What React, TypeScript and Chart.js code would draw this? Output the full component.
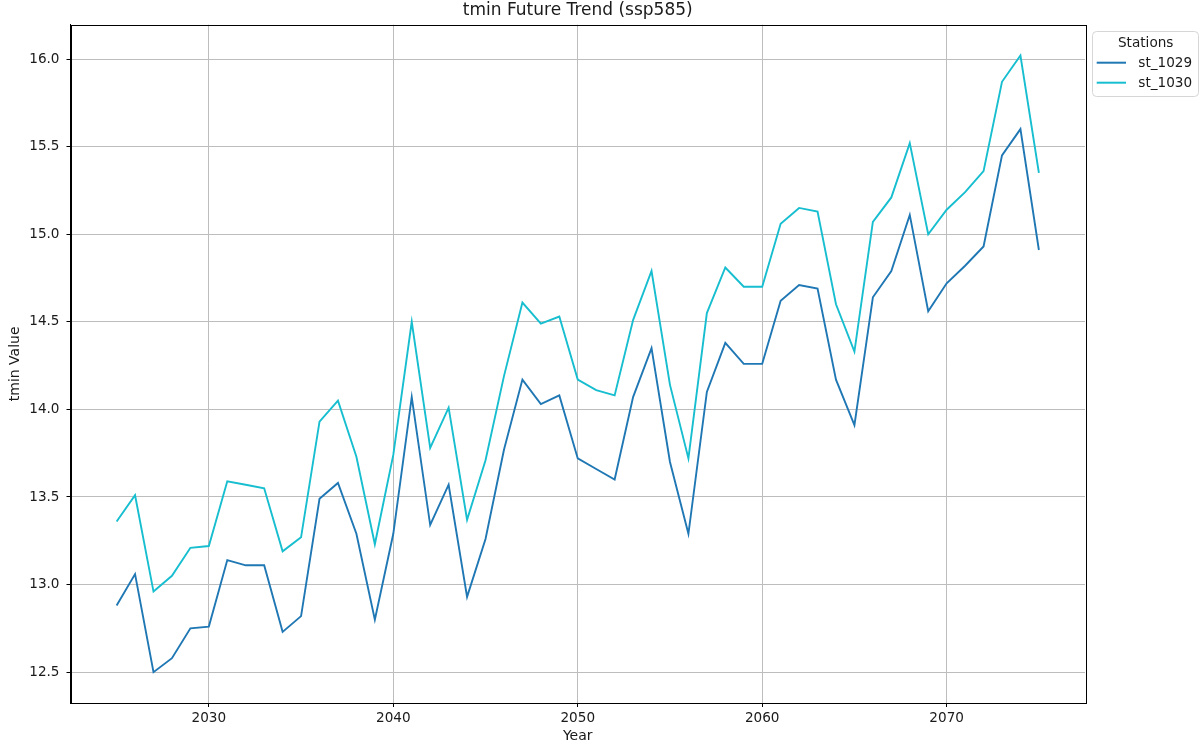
import React, { useEffect, useRef } from "react";
import { Chart, registerables } from "chart.js";

Chart.register(...registerables);

// Yearly projection horizon
const years: number[] = [
  2025, 2026, 2027, 2028, 2029, 2030, 2031, 2032, 2033, 2034,
  2035, 2036, 2037, 2038, 2039, 2040, 2041, 2042, 2043, 2044,
  2045, 2046, 2047, 2048, 2049, 2050, 2051, 2052, 2053, 2054,
  2055, 2056, 2057, 2058, 2059, 2060, 2061, 2062, 2063, 2064,
  2065, 2066, 2067, 2068, 2069, 2070, 2071, 2072, 2073, 2074,
  2075,
];

// Minimum temperature, station st_1029
const st1029: number[] = [
  12.88, 13.06, 12.5, 12.58, 12.75, 12.76, 13.14, 13.11, 13.11, 12.73,
  12.82, 13.49, 13.58, 13.29, 12.8, 13.29, 14.07, 13.34, 13.57, 12.93,
  13.26, 13.77, 14.17, 14.03, 14.08, 13.72, 13.66, 13.6, 14.07, 14.35,
  13.7, 13.29, 14.1, 14.38, 14.26, 14.26, 14.62, 14.71, 14.69, 14.17,
  13.91, 14.64, 14.79, 15.11, 14.56, 14.72, 14.82, 14.93, 15.45, 15.6,
  14.91,
];

// Minimum temperature, station st_1030
const st1030: number[] = [
  13.36, 13.51, 12.96, 13.05, 13.21, 13.22, 13.59, 13.57, 13.55, 13.19,
  13.27, 13.93, 14.05, 13.73, 13.23, 13.74, 14.5, 13.78, 14.01, 13.37,
  13.71, 14.19, 14.61, 14.49, 14.53, 14.17, 14.11, 14.08, 14.51, 14.79,
  14.14, 13.72, 14.55, 14.81, 14.7, 14.7, 15.06, 15.15, 15.13, 14.6,
  14.33, 15.07, 15.21, 15.52, 15.0, 15.14, 15.24, 15.36, 15.87, 16.02,
  15.35,
];

const seriesNames: string[] = ["st_1029", "st_1030"];
const seriesColors: string[] = ["#1f77b4", "#17becf"];

const xTicks: number[] = [2030, 2040, 2050, 2060, 2070];
const yTicks: number[] = [12.5, 13.0, 13.5, 14.0, 14.5, 15.0, 15.5, 16.0];

const titleText = "tmin Future Trend (ssp585)";
const xLabel = "Year";
const yLabel = "tmin Value";
const legendTitle = "Stations";

const FONT = "'DejaVu Sans', sans-serif";
const TEXT = "#1a1a1a";

// 5% margins around the data, like a default matplotlib autoscale
function padRange(lo: number, hi: number) {
  const m = (hi - lo) * 0.05;
  return [lo - m, hi + m];
}

export default function App() {
  const canvasRef = useRef<HTMLCanvasElement | null>(null);

  useEffect(() => {
    const canvas = canvasRef.current;
    if (!canvas) return;

    const allY = [...st1029, ...st1030];
    const [yMin, yMax] = padRange(Math.min(...allY), Math.max(...allY));
    const [xMin, xMax] = padRange(years[0], years[years.length - 1]);

    const decorations = {
      id: "decorations",
      afterDraw(chart: any) {
        const ctx = chart.ctx as CanvasRenderingContext2D;
        const a = chart.chartArea;
        ctx.save();

        // frame around the plot area
        ctx.strokeStyle = "#000";
        ctx.lineWidth = 1;
        ctx.strokeRect(
          Math.round(a.left) + 0.5,
          Math.round(a.top) + 0.5,
          Math.round(a.right - a.left),
          Math.round(a.bottom - a.top)
        );

        // title
        ctx.fillStyle = TEXT;
        ctx.font = `17px ${FONT}`;
        ctx.textAlign = "center";
        ctx.textBaseline = "middle";
        ctx.fillText(titleText, (a.left + a.right) / 2, 11);

        // axis titles
        ctx.font = `14px ${FONT}`;
        ctx.fillText(xLabel, (a.left + a.right) / 2, 736);
        ctx.save();
        ctx.translate(15, (a.top + a.bottom) / 2);
        ctx.rotate(-Math.PI / 2);
        ctx.fillText(yLabel, 0, 0);
        ctx.restore();

        // legend
        const lx = 1092.5, ly = 31.5, lw = 106, lh = 65, r = 4;
        ctx.beginPath();
        ctx.moveTo(lx + r, ly);
        ctx.lineTo(lx + lw - r, ly);
        ctx.arcTo(lx + lw, ly, lx + lw, ly + r, r);
        ctx.lineTo(lx + lw, ly + lh - r);
        ctx.arcTo(lx + lw, ly + lh, lx + lw - r, ly + lh, r);
        ctx.lineTo(lx + r, ly + lh);
        ctx.arcTo(lx, ly + lh, lx, ly + lh - r, r);
        ctx.lineTo(lx, ly + r);
        ctx.arcTo(lx, ly, lx + r, ly, r);
        ctx.closePath();
        ctx.fillStyle = "rgba(255,255,255,0.8)";
        ctx.fill();
        ctx.strokeStyle = "#d6d6d6";
        ctx.lineWidth = 1;
        ctx.stroke();

        ctx.fillStyle = TEXT;
        ctx.font = `13.6px ${FONT}`;
        ctx.textAlign = "center";
        ctx.fillText(legendTitle, 1145.7, 43.5);

        seriesNames.forEach((name, i) => {
          const y = 62.7 + i * 20;
          ctx.strokeStyle = seriesColors[i];
          ctx.lineWidth = 2;
          ctx.beginPath();
          ctx.moveTo(1096.7, y);
          ctx.lineTo(1126, y);
          ctx.stroke();
          ctx.fillStyle = TEXT;
          ctx.textAlign = "left";
          ctx.fillText(name, 1138.3, y + 0.5);
        });

        ctx.restore();
      },
    };

    const chart = new Chart(canvas, {
      type: "line",
      data: {
        datasets: [st1029, st1030].map((vals, i) => ({
          label: seriesNames[i],
          data: vals.map((v, k) => ({ x: years[k], y: v })),
          borderColor: seriesColors[i],
          backgroundColor: seriesColors[i],
          borderWidth: 1.9,
          pointRadius: 0,
          tension: 0,
          fill: false,
        })),
      },
      options: {
        responsive: false,
        animation: false,
        events: [],
        layout: { padding: { left: 0, right: 119, top: 24.7, bottom: 0 } },
        plugins: {
          legend: { display: false },
          title: { display: false },
          tooltip: { enabled: false },
        },
        scales: {
          x: {
            type: "linear",
            min: xMin,
            max: xMax,
            afterBuildTicks: (s: any) => {
              s.ticks = xTicks.map((v) => ({ value: v }));
            },
            afterFit: (s: any) => {
              s.height = 43;
            },
            grid: {
              color: "#bdbdbd",
              lineWidth: 1,
              drawTicks: true,
              tickLength: 4,
              tickColor: "#000",
              tickWidth: 1,
            },
            border: { display: true, color: "#000", width: 1 },
            ticks: {
              color: TEXT,
              font: { family: FONT, size: 13.6 },
              padding: 3,
              maxRotation: 0,
              callback: (v: any) => String(v),
            },
          },
          y: {
            type: "linear",
            min: yMin,
            max: yMax,
            afterBuildTicks: (s: any) => {
              s.ticks = yTicks.map((v) => ({ value: v }));
            },
            afterFit: (s: any) => {
              s.width = 70.5;
            },
            grid: {
              color: "#bdbdbd",
              lineWidth: 1,
              drawTicks: true,
              tickLength: 4,
              tickColor: "#000",
              tickWidth: 1,
            },
            border: { display: true, color: "#000", width: 1 },
            ticks: {
              color: TEXT,
              font: { family: FONT, size: 13.6 },
              padding: 7,
              callback: (v: any) => Number(v).toFixed(1),
            },
          },
        },
      },
      plugins: [decorations],
    } as any);

    return () => chart.destroy();
  }, []);

  return (
    <div style={{ position: "absolute", left: 0, top: 0, width: 1204, height: 746, background: "#fff" }}>
      <canvas ref={canvasRef} width={1204} height={746} style={{ display: "block" }} />
    </div>
  );
}
